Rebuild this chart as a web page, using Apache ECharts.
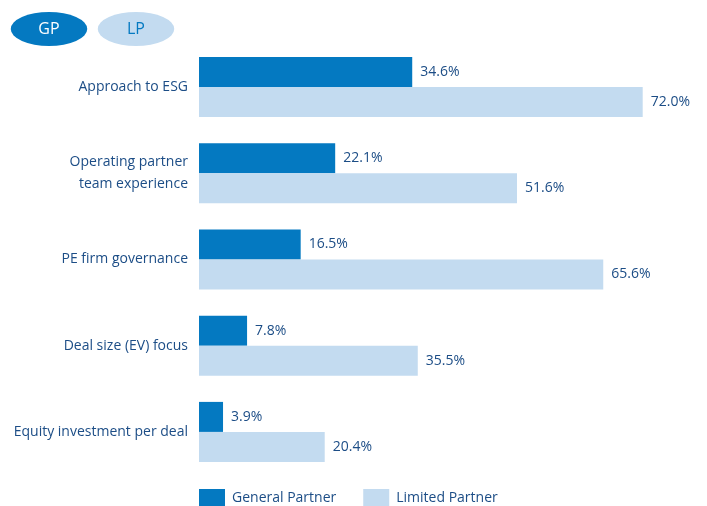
<!DOCTYPE html>
<html>
<head>
<meta charset="utf-8">
<script src="https://cdn.jsdelivr.net/npm/echarts@6/dist/echarts.min.js"></script>
<style>
    html, body { margin: 0; padding: 0; background: #fff; }
    #chart { width: 707px; height: 506px; }
</style>
</head>
<body>
<div id="chart"></div>
<script>
const categories = [
    'Approach to ESG',
    'Operating partner\nteam experience',
    'PE firm governance',
    'Deal size (EV) focus',
    'Equity investment per deal'
]
const gpValues = [34.6, 22.1, 16.5, 7.8, 3.9]
const lpValues = [72.0, 51.6, 65.6, 35.5, 20.4]

const gpColor = '#0479c1'
const lpColor = '#c3dbf0'
const textColor = '#1c4d86'

const chart = echarts.init(document.getElementById('chart'))

chart.setOption({
    animation: false,
    textStyle: { fontFamily: 'Open Sans' },
    grid: {
        left: 199,
        right: 15,
        top: 44,
        bottom: 31,
    },
    legend: {
        left: 194,
        top: 484,
        itemWidth: 26,
        itemHeight: 18,
        itemGap: 27,
        icon: 'rect',
        textStyle: { color: textColor, fontSize: 14, padding: [0, 0, 0, 2] },
        data: ['General Partner', 'Limited Partner'],
    },
    xAxis: {
        type: 'value',
        min: 0,
        max: 80,
        show: false,
    },
    yAxis: {
        type: 'category',
        inverse: true,
        data: categories,
        axisLine: { show: false },
        axisTick: { show: false },
        axisLabel: {
            color: textColor,
            fontSize: 14,
            margin: 11,
            lineHeight: 22,
        },
    },
    series: [
        {
            name: 'General Partner',
            type: 'bar',
            data: gpValues,
            barWidth: 30,
            barGap: '0%',
            itemStyle: { color: gpColor },
            label: {
                show: true,
                position: 'right',
                distance: 8,
                color: textColor,
                fontSize: 14,
                formatter: p => p.value.toFixed(1) + '%',
            },
        },
        {
            name: 'Limited Partner',
            type: 'bar',
            data: lpValues,
            barWidth: 30,
            barGap: '0%',
            itemStyle: { color: lpColor },
            label: {
                show: true,
                position: 'right',
                distance: 8,
                color: textColor,
                fontSize: 14,
                formatter: p => p.value.toFixed(1) + '%',
            },
        },
    ],
    graphic: [
        {
            type: 'circle',
            x: 49, y: 29,
            scaleX: 2.25,
            shape: { cx: 0, cy: 0, r: 17 },
            style: { fill: gpColor },
        },
        {
            type: 'text',
            x: 49, y: 29,
            style: { text: 'GP', fill: '#fff', fontSize: 16, fontFamily: 'Open Sans', align: 'center', verticalAlign: 'middle' },
        },
        {
            type: 'circle',
            x: 136, y: 29,
            scaleX: 2.25,
            shape: { cx: 0, cy: 0, r: 17 },
            style: { fill: lpColor },
        },
        {
            type: 'text',
            x: 136, y: 29,
            style: { text: 'LP', fill: gpColor, fontSize: 16, fontFamily: 'Open Sans', align: 'center', verticalAlign: 'middle' },
        },
    ],
})
</script>
</body>
</html>
